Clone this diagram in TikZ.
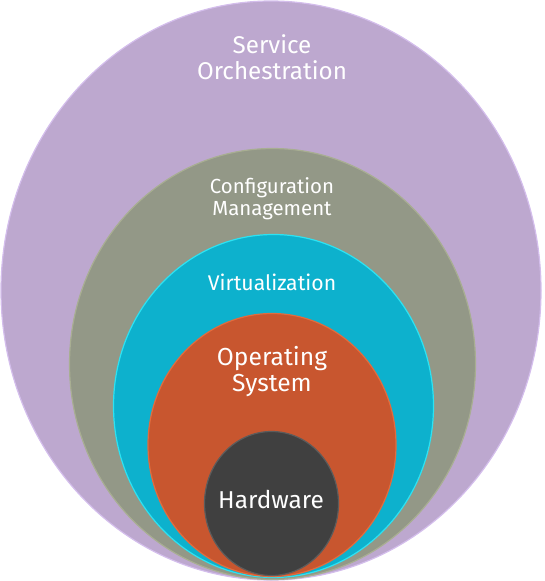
\documentclass[tikz,border=0pt]{standalone}
\usepackage{fontspec}
\setsansfont{Fira Sans}
\usepackage{tikz}
\usetikzlibrary{shapes.geometric}
\usepackage{xcolor}

\definecolor{orchestra}{RGB}{189,168,207}
\definecolor{orchestraRim}{RGB}{212,190,236}
\definecolor{config}{RGB}{147,152,135}
\definecolor{configRim}{RGB}{168,174,146}
\definecolor{virtual}{RGB}{13,177,205}
\definecolor{virtualRim}{RGB}{45,226,242}
\definecolor{opsys}{RGB}{200,86,47}
\definecolor{opsysRim}{RGB}{226,108,62}
\definecolor{hware}{RGB}{64,64,64}
\definecolor{hwareRim}{RGB}{92,92,92}

\begin{document}
\begin{tikzpicture}
	[   x=1pt,y=-1pt,
	    ring/.style={ellipse,draw=#1Rim,fill=#1,line width=1.2pt,inner sep=0pt,outer sep=0pt},
	]
	\tikzset{ring text/.style={text=white,font=\sffamily,align=center,anchor=base}}
	\useasboundingbox (0,0) rectangle (544,581);
	
	% nested rings, all resting on the bottom
	\foreach \n/\c/\x/\y/\w/\h in {so/orchestra/271/290.5/540/579,
		cm/config/272.5/364/406/431,
		vi/virtual/273.5/406/320/343,
		os/opsys/272/445/248/263,
		hw/hware/271.5/503.5/134/144}
	{
		\node[ring=\c,minimum width=\w pt,minimum height=\h pt] (\n) at (\x,\y) {};
	}
	
	% labels (base = last line)
	\node[ring text,font=\sffamily\fontsize{24.2}{26}\selectfont] (so-t) at (272,79) {Service\\Orchestration};
	\node[ring text,font=\sffamily\fontsize{20.4}{22}\selectfont] (cm-t) at (272,215) {Configuration\\Management};
	\node[ring text,font=\sffamily\fontsize{21.2}{23}\selectfont] (vi-t) at (272,290) {Virtualization};
	\node[ring text,font=\sffamily\fontsize{24.6}{26}\selectfont] (os-t) at (272,391) {Operating\\System};
	\node[ring text,font=\sffamily\fontsize{24.4}{26}\selectfont] (hw-t) at (271,508) {Hardware};

\end{tikzpicture}
\end{document}
